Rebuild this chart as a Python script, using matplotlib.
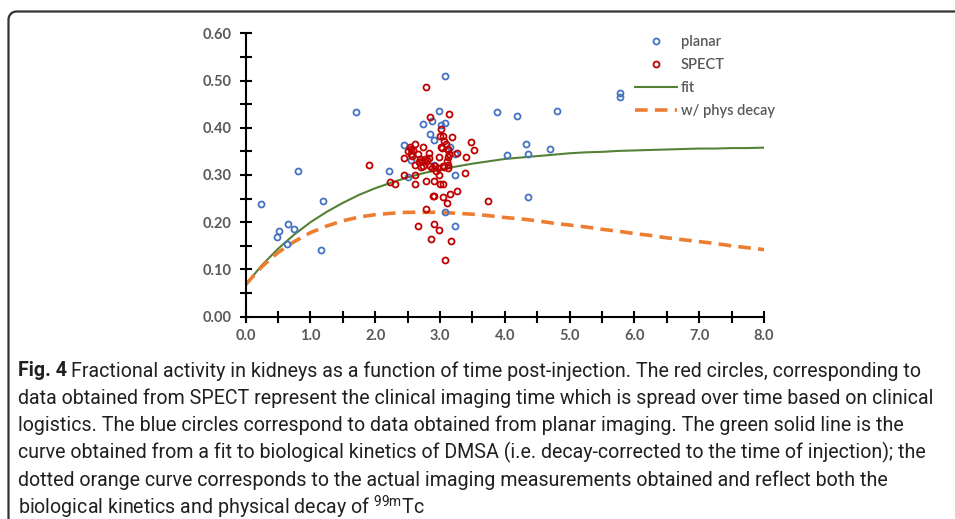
import matplotlib
matplotlib.use('Agg')
import matplotlib.pyplot as plt
import numpy as np
from matplotlib.lines import Line2D
from matplotlib.ticker import MultipleLocator, FormatStrFormatter

# planar points (time, fraction)
planar_x = [0.23, 0.51, 0.49, 0.66, 0.745, 0.63, 0.81, 1.19, 1.16, 1.70,
            2.21, 2.45, 2.55, 2.51, 2.73, 2.84, 2.88, 2.90, 2.99, 3.08,
            3.02, 3.08, 3.16, 3.23, 3.23, 2.90, 3.08, 3.23, 3.88, 4.18,
            4.81, 5.77, 5.77, 4.32, 4.03, 4.35, 4.70, 4.35]
planar_y = [0.238, 0.182, 0.168, 0.196, 0.185, 0.153, 0.309, 0.244, 0.142, 0.434,
            0.309, 0.364, 0.332, 0.295, 0.409, 0.387, 0.414, 0.375, 0.436, 0.509,
            0.406, 0.410, 0.359, 0.345, 0.300, 0.321, 0.222, 0.193, 0.433, 0.425,
            0.435, 0.473, 0.466, 0.366, 0.342, 0.344, 0.355, 0.254]

# SPECT points
spect_x = [2.79, 2.84, 3.14, 3.02, 3.00, 3.05, 3.18, 3.06, 3.09, 3.03,
           3.13, 3.14, 3.26, 3.48, 3.53, 3.40, 3.38, 3.26, 3.15, 3.04,
           3.11, 2.89, 2.91, 2.78, 2.66, 2.91, 2.98, 2.86, 3.17, 3.08,
           3.74, 1.90, 2.23, 2.31, 2.45, 2.45, 2.61, 2.61, 2.78, 2.90,
           3.00, 3.04, 2.61, 2.53, 2.55, 2.73, 2.66, 2.55, 2.57, 2.83,
           2.98, 2.83, 2.80, 2.72, 2.69, 2.76, 2.67, 2.74, 2.84, 2.88,
           2.92, 2.97, 2.93, 2.98, 3.04, 3.12, 3.10, 3.13, 3.06, 3.12,
           2.58, 2.62, 2.70, 3.02, 3.12, 2.51]
spect_y = [0.487, 0.422, 0.429, 0.397, 0.382, 0.382, 0.380, 0.371, 0.366, 0.358,
           0.355, 0.345, 0.347, 0.369, 0.353, 0.339, 0.304, 0.267, 0.259, 0.253,
           0.240, 0.256, 0.256, 0.229, 0.192, 0.197, 0.184, 0.165, 0.161, 0.120,
           0.244, 0.321, 0.285, 0.280, 0.336, 0.299, 0.300, 0.281, 0.287, 0.288,
           0.282, 0.280, 0.366, 0.360, 0.356, 0.359, 0.345, 0.345, 0.340, 0.346,
           0.338, 0.335, 0.331, 0.329, 0.333, 0.334, 0.327, 0.320, 0.320, 0.315,
           0.318, 0.314, 0.309, 0.301, 0.320, 0.315, 0.329, 0.322, 0.316, 0.338,
           0.352, 0.322, 0.317, 0.360, 0.353, 0.350]

# curves
curve_t = [0.0, 0.25, 0.5, 0.75, 1.0, 1.25, 1.5, 1.75, 2.0, 2.25, 2.5,
           2.75, 3.0, 3.25, 3.5, 3.75, 4.0, 4.25, 4.5, 4.75, 5.0, 5.25,
           5.5, 5.75, 6.0, 6.25, 6.5, 6.75, 7.0, 7.25, 7.5, 7.75, 8.0]
fit_y = [0.068, 0.109, 0.144, 0.174, 0.200, 0.222, 0.241, 0.258, 0.272, 0.284, 0.295,
         0.304, 0.312, 0.318, 0.324, 0.329, 0.334, 0.337, 0.340, 0.343, 0.346, 0.348,
         0.349, 0.351, 0.352, 0.353, 0.354, 0.355, 0.356, 0.356, 0.357, 0.357, 0.358]
decay_y = [0.068, 0.106, 0.136, 0.159, 0.178, 0.192, 0.203, 0.211, 0.216, 0.219, 0.221,
           0.221, 0.221, 0.219, 0.217, 0.214, 0.210, 0.207, 0.203, 0.198, 0.194, 0.190,
           0.185, 0.181, 0.176, 0.172, 0.167, 0.163, 0.159, 0.155, 0.150, 0.146, 0.142]

caption_lines = [
    'Fractional activity in kidneys as a function of time post-injection. The red circles, corresponding to',
    'data obtained from SPECT represent the clinical imaging time which is spread over time based on clinical',
    'logistics. The blue circles correspond to data obtained from planar imaging. The green solid line is the',
    'curve obtained from a fit to biological kinetics of DMSA (i.e. decay-corrected to the time of injection); the',
    'dotted orange curve corresponds to the actual imaging measurements obtained and reflect both the',
    'biological kinetics and physical decay of $^{\\mathregular{99m}}$Tc',
]

W, H = 955, 519
fig = plt.figure(figsize=(W / 100, H / 100), dpi=100)

# frame: left and top edges with a rounded top-left corner (pixel coords)
fx, fy, r = 8.5, H - 11.5, 8
ang = np.linspace(np.pi, np.pi / 2, 12)
frame_x = [fx] + list(fx + r + r * np.cos(ang)) + [W]
frame_y = [0] + list(fy - r + r * np.sin(ang)) + [fy]
fig.add_artist(Line2D(frame_x, frame_y, transform=None, color='#333333',
                      lw=1.6, solid_capstyle='butt'))

ax = fig.add_axes([245.7 / W, 1 - 316.7 / H, (764 - 245.7) / W, (316.7 - 33.3) / H])

ax.plot(curve_t, fit_y, color='#548235', lw=1.5, label='fit', zorder=2)
ax.plot(curve_t, decay_y, color='#ED7D31', lw=2.6, dashes=(3.5, 2),
        label='w/ phys decay', zorder=2)
ax.plot(planar_x, planar_y, 'o', ms=4.3, mfc='none', mec='#4472C4', mew=1.3,
        label='planar', zorder=3)
ax.plot(spect_x, spect_y, 'o', ms=4.3, mfc='none', mec='#C00000', mew=1.3,
        label='SPECT', zorder=3)

ax.set_xlim(0, 8)
ax.set_ylim(0, 0.6)
for s in ['top', 'right']:
    ax.spines[s].set_visible(False)
for s in ['left', 'bottom']:
    ax.spines[s].set_linewidth(1.5)
    ax.spines[s].set_color('black')

ax.xaxis.set_major_locator(MultipleLocator(1.0))
ax.xaxis.set_minor_locator(MultipleLocator(0.5))
ax.yaxis.set_major_locator(MultipleLocator(0.1))
ax.yaxis.set_minor_locator(MultipleLocator(0.05))
ax.xaxis.set_major_formatter(FormatStrFormatter('%.1f'))
ax.yaxis.set_major_formatter(FormatStrFormatter('%.2f'))
ax.tick_params(which='both', direction='inout', length=8, width=1.5, color='black')
ax.tick_params(axis='x', pad=5)
ax.tick_params(axis='y', pad=6)
for lab in ax.get_xticklabels() + ax.get_yticklabels():
    lab.set_fontfamily('Lato')
    lab.set_fontweight('bold')
    lab.set_fontsize(10.5)
    lab.set_color('#595959')

h, l = ax.get_legend_handles_labels()
order = [2, 3, 0, 1]
leg = ax.legend([h[i] for i in order], [l[i] for i in order],
                loc='upper left', bbox_to_anchor=(635 / W, 1 - 35 / H),
                bbox_transform=fig.transFigure, frameon=False,
                borderpad=0, borderaxespad=0, handlelength=2.9,
                handletextpad=0.25, labelspacing=0.62,
                prop={'family': 'Lato', 'size': 10.5, 'weight': 'semibold'})
for t in leg.get_texts():
    t.set_color('#595959')

# caption
cap_font = ['Roboto', 'DejaVu Sans']
plt.rcParams['mathtext.fontset'] = 'custom'
plt.rcParams['mathtext.rm'] = 'Roboto'
cap_color = '#231f20'
y_first = 371
step = 27.2

# pick the size so the widest line runs from x=18 to about x=937
probe = fig.text(0, 0, caption_lines[1], family=cap_font, size=14)
fig.canvas.draw()
probe_w = probe.get_window_extent().width
probe.remove()
cap_size = 14 * (937 - 18) / probe_w

fig_lbl = fig.text(18 / W, 1 - y_first / H, 'Fig. 4', family=cap_font,
                   weight='bold', size=cap_size, color=cap_color, va='center')
fig.canvas.draw()
bb = fig_lbl.get_window_extent()
for i, line in enumerate(caption_lines):
    y = 1 - (y_first + i * step) / H
    x = (bb.x1 + 4) / W if i == 0 else 18 / W
    fig.text(x, y, line, family=cap_font, size=cap_size,
             color=cap_color, va='center')

fig.savefig('out.png', dpi=100)
